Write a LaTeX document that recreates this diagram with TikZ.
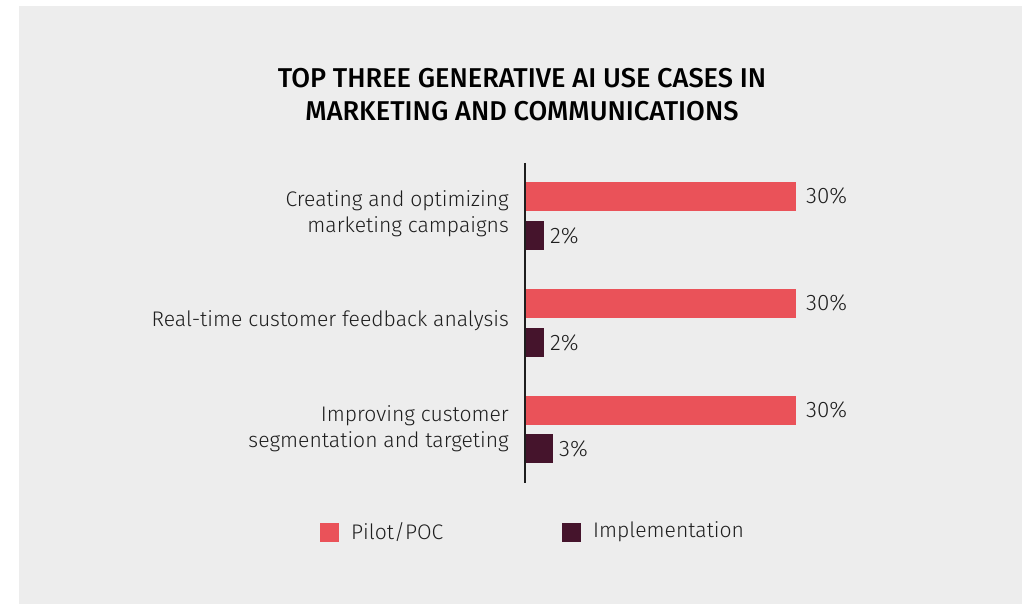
\documentclass[tikz,border=0pt]{standalone}
\usepackage{fontspec}
\setmainfont{Fira Sans Light}[BoldFont={Fira Sans Medium}]
\usepackage{tikz}

\definecolor{fundo}{HTML}{EDEDED}
\definecolor{piloto}{HTML}{EA5259}
\definecolor{implem}{HTML}{45142C}
\definecolor{texto}{HTML}{1E1E1E}

\tikzset{
  rotulo/.style={anchor=east, align=right, text=texto, font=\fontsize{21.2}{26}\selectfont, inner sep=0pt},
  valor/.style={anchor=west, text=texto, font=\fontsize{22.5}{24}\selectfont, inner sep=0pt},
  legenda/.style={anchor=west, text=texto, font=\fontsize{21.2}{24}\selectfont, inner sep=0pt}
}

\begin{document}
\begin{tikzpicture}[x=1bp, y=-1bp]
            % Fundo cinza
            \useasboundingbox (0,0) rectangle (1031,605);
            \fill[fundo] (19,6) rectangle (1022,604);
            % Titulo
            \node[align=center, text=black, font=\fontsize{27.3}{33}\selectfont\bfseries] (titulo) at (522,95)
              {TOP THREE GENERATIVE AI USE CASES IN\\MARKETING AND COMMUNICATIONS};
            % Barras Pilot/POC
            \fill[piloto] (525,182) rectangle (796,211);
            \fill[piloto] (525,289) rectangle (796,318);
            \fill[piloto] (525,396) rectangle (796,425);
            % Barras Implementation
            \fill[implem] (525,221) rectangle (544,250);
            \fill[implem] (525,328) rectangle (544,357);
            \fill[implem] (525,434) rectangle (553,463);
            % Eixo vertical
            \draw[texto, line width=1.6bp] (525,163) -- (525,483);
            % Valores
            \node[valor] (vA1) at (806,196) {30\%};
            \node[valor] (vA2) at (550,236) {2\%};
            \node[valor] (vB1) at (806,303) {30\%};
            \node[valor] (vB2) at (550,343) {2\%};
            \node[valor] (vC1) at (806,410) {30\%};
            \node[valor] (vC2) at (559,449) {3\%};
            % Categorias
            \node[rotulo] (catA) at (509,214) {Creating and optimizing\\marketing campaigns};
            \node[rotulo] (catB) at (509,321) {Real-time customer feedback analysis};
            \node[rotulo] (catC) at (509,429) {Improving customer\\segmentation and targeting};
            % Legenda
            \fill[piloto] (320,523) rectangle (339,542);
            \node[legenda] (legP) at (351,532) {Pilot/POC};
            \fill[implem] (562,523) rectangle (581,542);
            \node[legenda] (legI) at (593,532) {Implementation};
\end{tikzpicture}
\end{document}
